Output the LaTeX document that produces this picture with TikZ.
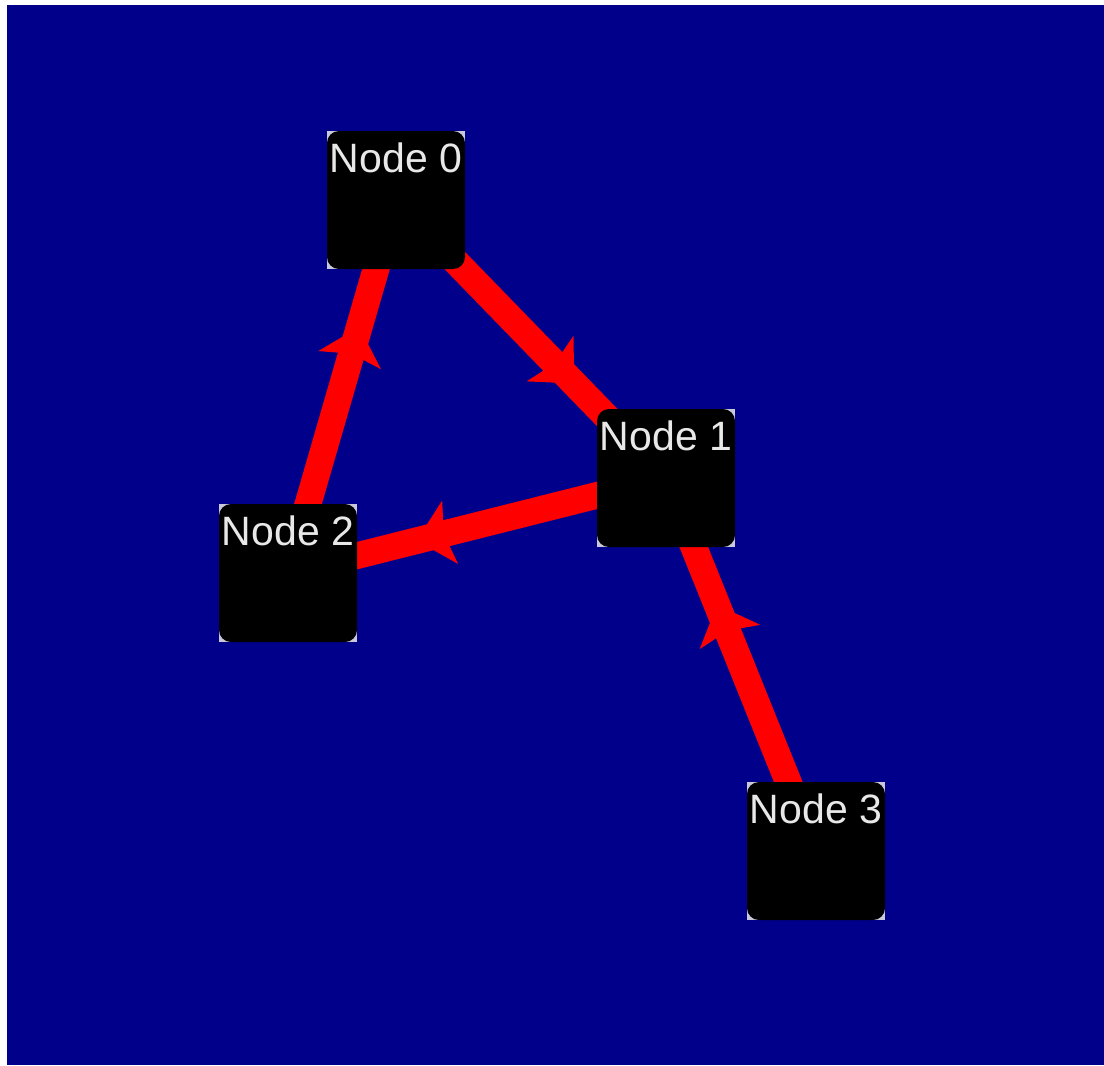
\documentclass[tikz,border=0pt]{standalone}
\usepackage{fontspec}
\setmainfont{Liberation Sans}
\usetikzlibrary{arrows.meta,decorations.markings}
\definecolor{canvasblue}{HTML}{00008B}
\definecolor{edgered}{HTML}{FF0000}
\definecolor{labelgray}{HTML}{E8E8E8}
\definecolor{cornergray}{HTML}{C8C8D8}
\pgfdeclarelayer{background}
\pgfsetlayers{background,main}
\tikzset{
  graphnode/.style={rectangle, rounded corners=9pt, fill=black,
    minimum size=103.5pt, inner sep=0pt, outer sep=0pt},
  nodetext/.style={anchor=base, yshift=-30.75pt, inner sep=0pt,
    text=labelgray, font=\fontsize{30.75pt}{36pt}\selectfont},
  edge/.style={draw=edgered, line width=20pt,
    postaction={decorate},
    decoration={markings, mark=at position 0.66 with {
      \arrow[edgered]{Stealth[length=26pt, width=49pt, inset=5pt, line width=0pt]}}}},
}
\begin{document}
\begin{tikzpicture}[x=0.75pt, y=-0.75pt]
  \useasboundingbox (0,0) rectangle (1104,1065);

  % graph nodes
  \node[graphnode, label={[nodetext]north:Node 0}] (n0) at (396,200) {};
  \node[graphnode, label={[nodetext]north:Node 1}] (n1) at (666,478) {};
  \node[graphnode, label={[nodetext]north:Node 2}] (n2) at (288,573) {};
  \node[graphnode, label={[nodetext]north:Node 3}] (n3) at (816,851) {};

  \begin{pgfonlayer}{background}
    % canvas
    \fill[white] (0,0) rectangle (1104,1065);
    \fill[canvasblue] (7,5) rectangle (1104,1065);
    % square backing behind each rounded box
    \foreach \n in {n0,n1,n2,n3}
      \fill[cornergray] (\n.north west) rectangle (\n.south east);
    % directed edges
    \draw[edge] (n0.center) -- (n1.center);
    \draw[edge] (n2.center) -- (n0.center);
    \draw[edge] (n1.center) -- (n2.center);
    \draw[edge] (n3.center) -- (n1.center);
  \end{pgfonlayer}
\end{tikzpicture}
\end{document}
